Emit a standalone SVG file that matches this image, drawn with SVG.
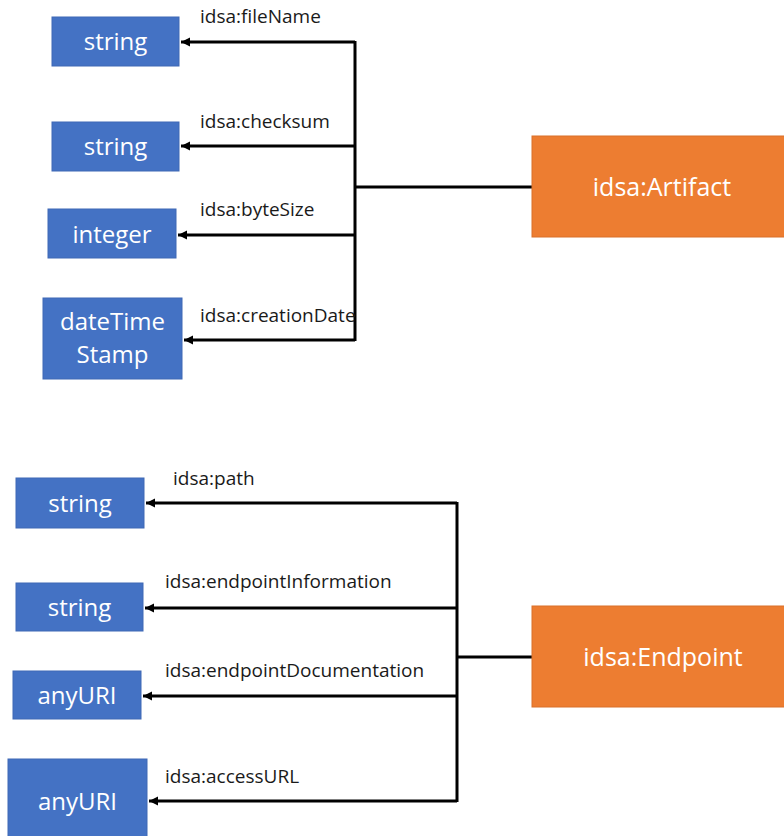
<svg xmlns="http://www.w3.org/2000/svg" width="784" height="836" viewBox="0 0 784 836">
<style>
.t{fill:#4472C4;stroke:#3F68B5;stroke-width:1}
.c{fill:#ED7D31;stroke:#D9702A;stroke-width:1}
.bt{font-family:"Open Sans","Liberation Sans",sans-serif;font-size:24px;fill:#fff;text-anchor:middle}
.ct{font-family:"Open Sans","Liberation Sans",sans-serif;font-size:25px;fill:#fff;text-anchor:middle}
.lb{font-family:"Open Sans","Liberation Sans",sans-serif;font-size:19px;fill:#1a1a1a}
.ln{fill:none;stroke:#000;stroke-width:3}
.ar{fill:none;stroke:#000;stroke-width:3;marker-end:url(#ah)}
</style>
<defs>
<marker id="ah" markerUnits="userSpaceOnUse" markerWidth="12" markerHeight="12" viewBox="0 0 12 12" refX="10" refY="6" orient="auto">
<path d="M1,1.5 L10,6 L1,10.5 Z" fill="#000"/>
</marker>
</defs>
<g id="connectors">
<path class="ln" d="M355,41 V341"/>
<path class="ln" d="M355,187 H532"/>
<path class="ar" d="M355,42 H181"/>
<path class="ar" d="M355,146 H181"/>
<path class="ar" d="M355,235 H178"/>
<path class="ar" d="M355,340 H184"/>
<path class="ln" d="M457,502 V802"/>
<path class="ln" d="M457,657 H532"/>
<path class="ar" d="M457,503 H146"/>
<path class="ar" d="M457,608 H145"/>
<path class="ar" d="M457,696 H143"/>
<path class="ar" d="M457,801 H149"/>
<text class="lb" x="200" y="23">idsa:fileName</text>
<text class="lb" x="200" y="128">idsa:checksum</text>
<text class="lb" x="200" y="216">idsa:byteSize</text>
<text class="lb" x="200" y="322">idsa:creationDate</text>
<text class="lb" x="173" y="485">idsa:path</text>
<text class="lb" x="165" y="588">idsa:endpointInformation</text>
<text class="lb" x="165" y="677">idsa:endpointDocumentation</text>
<text class="lb" x="165" y="783">idsa:accessURL</text>
</g>
<g id="artifact"><rect class="c" x="532" y="136" width="260" height="101"/><text class="ct" x="662" y="196">idsa:Artifact</text></g>
<g id="a-string1"><rect class="t" x="52" y="17" width="127" height="49"/><text class="bt" x="115.5" y="50">string</text></g>
<g id="a-string2"><rect class="t" x="52" y="122" width="127" height="49"/><text class="bt" x="115.5" y="155">string</text></g>
<g id="a-integer"><rect class="t" x="48" y="209" width="128" height="49"/><text class="bt" x="112" y="243">integer</text></g>
<g id="a-datetime"><rect class="t" x="43" y="298" width="139" height="81"/><text class="bt" x="112.5" y="330">dateTime</text><text class="bt" x="112.5" y="363">Stamp</text></g>
<g id="endpoint"><rect class="c" x="532" y="606" width="260" height="101"/><text class="ct" x="663" y="666">idsa:Endpoint</text></g>
<g id="e-string1"><rect class="t" x="16" y="478" width="128" height="50"/><text class="bt" x="80" y="512">string</text></g>
<g id="e-string2"><rect class="t" x="16" y="583" width="127" height="48"/><text class="bt" x="79.5" y="616">string</text></g>
<g id="e-anyuri1"><rect class="t" x="13" y="671" width="128" height="48"/><text class="bt" x="77" y="704">anyURI</text></g>
<g id="e-anyuri2"><rect class="t" x="8" y="759" width="139" height="90"/><text class="bt" x="77.5" y="810">anyURI</text></g>
</svg>
